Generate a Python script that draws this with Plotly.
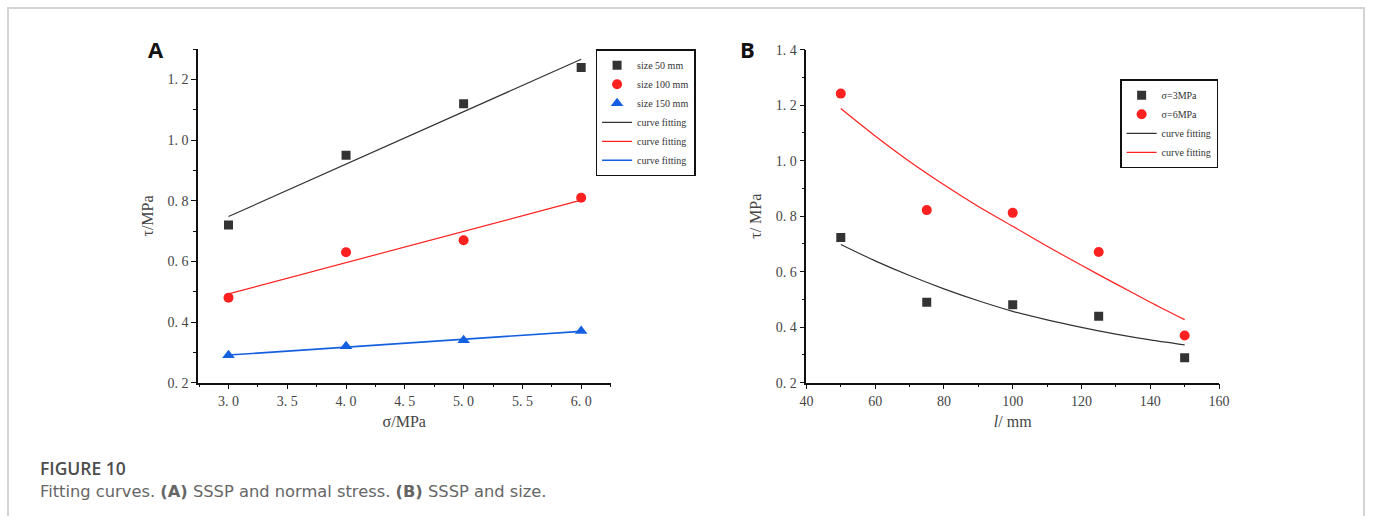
import plotly.graph_objects as go

# ---------------- Panel A: shear strength vs normal stress ----------------
sigma = [3.0, 4.0, 5.0, 6.0]
tau_50 = [0.72, 0.95, 1.12, 1.24]
tau_100 = [0.48, 0.63, 0.67, 0.81]
tau_150 = [0.29, 0.32, 0.34, 0.37]
fit_50 = [0.748, 0.921, 1.094, 1.267]
fit_100 = [0.493, 0.596, 0.699, 0.802]
fit_150 = [0.291, 0.317, 0.343, 0.369]

a_xticks = [3.0, 3.5, 4.0, 4.5, 5.0, 5.5, 6.0]
a_xlabels = ["3. 0", "3. 5", "4. 0", "4. 5", "5. 0", "5. 5", "6. 0"]
a_yticks = [0.2, 0.4, 0.6, 0.8, 1.0, 1.2]
a_ylabels = ["0. 2", "0. 4", "0. 6", "0. 8", "1. 0", "1. 2"]

# ---------------- Panel B: shear strength vs specimen size ----------------
size_mm = [50, 75, 100, 125, 150]
tau_s3 = [0.723, 0.49, 0.481, 0.439, 0.29]
tau_s6 = [1.242, 0.822, 0.812, 0.671, 0.37]
fit_x = [50, 60, 70, 80, 90, 100, 110, 120, 130, 140, 150]
fit_s3 = [0.698, 0.639, 0.586, 0.538, 0.495, 0.457, 0.426, 0.399, 0.375, 0.354, 0.336]
fit_s6 = [1.188, 1.089, 0.997, 0.913, 0.835, 0.764, 0.692, 0.623, 0.556, 0.490, 0.427]

b_xticks = [40, 60, 80, 100, 120, 140, 160]
b_xlabels = ["40", "60", "80", "100", "120", "140", "160"]
b_yticks = [0.2, 0.4, 0.6, 0.8, 1.0, 1.2, 1.4]
b_ylabels = ["0. 2", "0. 4", "0. 6", "0. 8", "1. 0", "1. 2", "1. 4"]

BLACK = "#333333"
RED = "#ff2020"
BLUE = "#1560e0"
SERIF = "Liberation Serif, Times New Roman, serif"
SANS = "DejaVu Sans, sans-serif"

fig = go.Figure()

# Panel A traces
fig.add_trace(go.Scatter(x=sigma, y=tau_50, mode="markers", name="size 50 mm",
                         marker=dict(symbol="square", size=9, color=BLACK),
                         xaxis="x", yaxis="y", legend="legend"))
fig.add_trace(go.Scatter(x=sigma, y=tau_100, mode="markers", name="size 100 mm",
                         marker=dict(symbol="circle", size=10, color=RED),
                         xaxis="x", yaxis="y", legend="legend"))
fig.add_trace(go.Scatter(x=sigma, y=tau_150, mode="markers", name="size 150 mm",
                         marker=dict(symbol="triangle-up", size=11, color=BLUE),
                         xaxis="x", yaxis="y", legend="legend"))
fig.add_trace(go.Scatter(x=sigma, y=fit_50, mode="lines", name="curve fitting",
                         line=dict(color=BLACK, width=1.2),
                         xaxis="x", yaxis="y", legend="legend"))
fig.add_trace(go.Scatter(x=sigma, y=fit_100, mode="lines", name="curve fitting",
                         line=dict(color=RED, width=1.2),
                         xaxis="x", yaxis="y", legend="legend"))
fig.add_trace(go.Scatter(x=sigma, y=fit_150, mode="lines", name="curve fitting",
                         line=dict(color=BLUE, width=1.6),
                         xaxis="x", yaxis="y", legend="legend"))

# Panel B traces
fig.add_trace(go.Scatter(x=size_mm, y=tau_s3, mode="markers", name="σ=3MPa",
                         marker=dict(symbol="square", size=9, color=BLACK),
                         xaxis="x2", yaxis="y2", legend="legend2"))
fig.add_trace(go.Scatter(x=size_mm, y=tau_s6, mode="markers", name="σ=6MPa",
                         marker=dict(symbol="circle", size=10, color=RED),
                         xaxis="x2", yaxis="y2", legend="legend2"))
fig.add_trace(go.Scatter(x=fit_x, y=fit_s3, mode="lines", name="curve fitting",
                         line=dict(color=BLACK, width=1.2, shape="spline", smoothing=0.8),
                         xaxis="x2", yaxis="y2", legend="legend2"))
fig.add_trace(go.Scatter(x=fit_x, y=fit_s6, mode="lines", name="curve fitting",
                         line=dict(color=RED, width=1.2, shape="spline", smoothing=0.8),
                         xaxis="x2", yaxis="y2", legend="legend2"))

W, H = 1375, 524
# The page body keeps its default 8px margin and the captured page is scaled
# to the window, so on-screen pixel positions are converted to figure pixels.
PAGE_MARGIN = 8
SX, SY = 0.9885, 0.9704


def px_x(p):
    return (p / SX - PAGE_MARGIN) / W


def px_y(p):
    return 1 - (p / SY - PAGE_MARGIN) / H


axis_common = dict(
    showline=True, linecolor="#111111", linewidth=1.5, mirror=False,
    showgrid=False, zeroline=False,
    ticks="outside", ticklen=5, tickwidth=1.2, tickcolor="#111111",
    tickfont=dict(family=SERIF, size=14, color="#444444"),
)
title_font = dict(family=SERIF, size=16, color="#444444")

fig.update_layout(
    width=W, height=H,
    margin=dict(l=0, r=0, t=0, b=0),
    paper_bgcolor="white", plot_bgcolor="white",
    xaxis=dict(axis_common, domain=[px_x(199), px_x(612)], range=[2.74, 6.25],
               tickmode="array", tickvals=a_xticks, ticktext=a_xlabels,
               minor=dict(ticks="outside", ticklen=3, dtick=0.25, tick0=3.0,
                          tickcolor="#111111", tickwidth=1.2),
               anchor="y",
               title=dict(text="σ/MPa", font=title_font, standoff=8)),
    yaxis=dict(axis_common, domain=[px_y(383), px_y(50)], range=[0.2, 1.3],
               tickmode="array", tickvals=a_yticks, ticktext=a_ylabels,
               minor=dict(ticks="outside", ticklen=3, dtick=0.1, tick0=0.2,
                          tickcolor="#111111", tickwidth=1.2),
               anchor="x",
               title=dict(text="τ/MPa", font=title_font, standoff=10)),
    xaxis2=dict(axis_common, domain=[px_x(808), px_x(1221)], range=[40, 160],
                tickmode="array", tickvals=b_xticks, ticktext=b_xlabels,
                minor=dict(ticks="outside", ticklen=3, dtick=10, tick0=40,
                           tickcolor="#111111", tickwidth=1.2),
                anchor="y2",
                title=dict(text="<i>l</i>/ mm", font=title_font, standoff=8)),
    yaxis2=dict(axis_common, domain=[px_y(383), px_y(50.5)], range=[0.2, 1.4],
                tickmode="array", tickvals=b_yticks, ticktext=b_ylabels,
                minor=dict(ticks="outside", ticklen=3, dtick=0.1, tick0=0.2,
                           tickcolor="#111111", tickwidth=1.2),
                anchor="x2",
                title=dict(text="τ/ MPa", font=title_font, standoff=10)),
    legend=dict(x=px_x(597), y=px_y(50), xanchor="left", yanchor="top",
                bgcolor="white", bordercolor="#111111", borderwidth=1.5,
                font=dict(family=SERIF, size=10, color="#333333"),
                itemwidth=30, tracegroupgap=0),
    legend2=dict(x=px_x(1122), y=px_y(80), xanchor="left", yanchor="top",
                 bgcolor="white", bordercolor="#111111", borderwidth=1.5,
                 font=dict(family=SERIF, size=10, color="#333333"),
                 itemwidth=30, tracegroupgap=0),
    showlegend=True,
)

# Panel letters
fig.add_annotation(text="<b>A</b>", x=px_x(157), y=px_y(50), xref="paper", yref="paper",
                   xanchor="center", yanchor="middle", showarrow=False,
                   font=dict(family="Open Sans, Arial, sans-serif", size=22, color="#111111"))
fig.add_annotation(text="<b>B</b>", x=px_x(749), y=px_y(50), xref="paper", yref="paper",
                   xanchor="center", yanchor="middle", showarrow=False,
                   font=dict(family="Open Sans, Arial, sans-serif", size=22, color="#111111"))

# Caption
fig.add_annotation(text="FIGURE 10", x=px_x(39), y=px_y(468), xref="paper", yref="paper",
                   xanchor="left", yanchor="middle", showarrow=False,
                   font=dict(family="Open Sans, sans-serif", size=17.5, color="#4d4d4d",
                             weight=600))
fig.add_annotation(text="Fitting curves. <b>(A)</b> SSSP and normal stress. <b>(B)</b> SSSP and size.",
                   x=px_x(39), y=px_y(492), xref="paper", yref="paper",
                   xanchor="left", yanchor="middle", showarrow=False,
                   font=dict(family=SANS, size=16.3, color="#666666"))

# Figure frame (left, top, right edges)
frame = dict(type="line", xref="paper", yref="paper", line=dict(color="#d4d4d4", width=2))
fig.add_shape(frame, x0=1 / W, x1=1 / W, y0=0, y1=1)
fig.add_shape(frame, x0=1 / W, x1=1 - 1 / W, y0=1 - 1 / H, y1=1 - 1 / H)
fig.add_shape(frame, x0=1 - 1 / W, x1=1 - 1 / W, y0=0, y1=1)

fig.write_html("out.html")
